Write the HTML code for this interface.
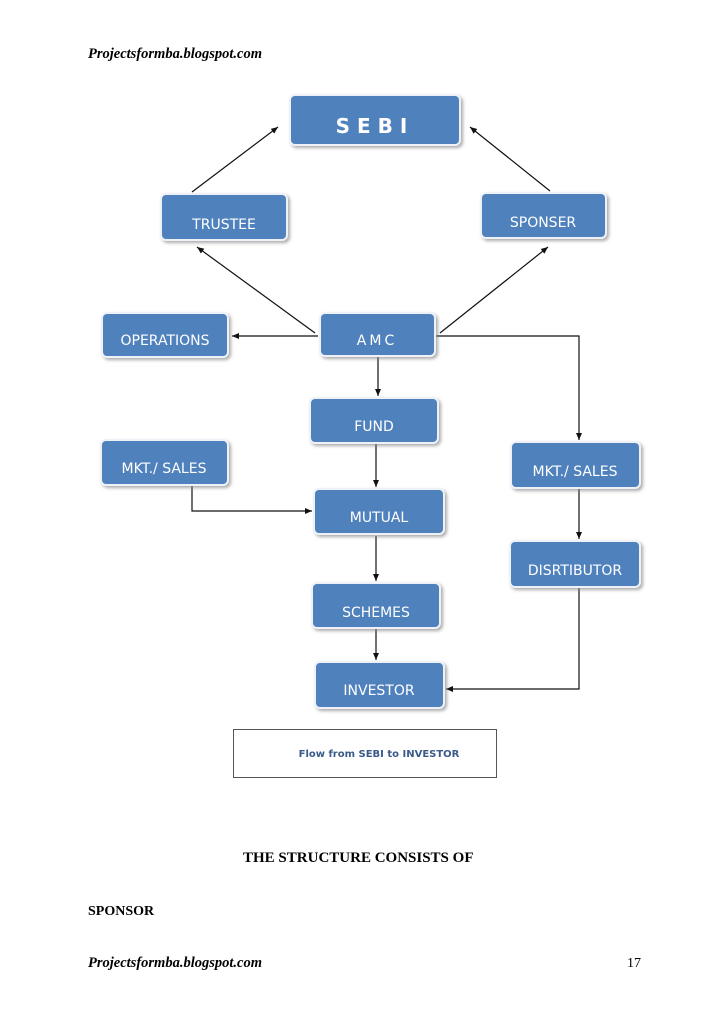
<!DOCTYPE html>
<html><head><meta charset="utf-8"><style>
html,body{margin:0;padding:0;background:#fff}
svg{display:block}
</style></head><body>
<svg width="728" height="1031" viewBox="0 0 728 1031" xmlns="http://www.w3.org/2000/svg">
<defs>
<marker id="a" markerWidth="8" markerHeight="8" refX="7" refY="4" orient="auto" markerUnits="userSpaceOnUse">
<path d="M0,1 L7,4 L0,7 z" fill="#111"/></marker>
<filter id="s" x="-10%" y="-10%" width="130%" height="140%"><feDropShadow dx="2" dy="2" stdDeviation="1.5" flood-color="#888" flood-opacity="0.7"/></filter>
</defs>
<g font-family="Liberation Serif, serif" font-weight="bold" font-style="italic" font-size="14.5" fill="#000">
<text x="88" y="58">Projectsformba.blogspot.com</text>
<text x="88" y="967">Projectsformba.blogspot.com</text>
</g>
<text x="627" y="967" font-family="Liberation Serif, serif" font-size="14">17</text>
<text x="243" y="862" font-family="Liberation Serif, serif" font-weight="bold" font-size="15">THE STRUCTURE CONSISTS OF</text>
<text x="88" y="915" font-family="Liberation Serif, serif" font-weight="bold" font-size="14">SPONSOR</text>

<g stroke="#111" stroke-width="1.2" fill="none" marker-end="url(#a)">
<line x1="192" y1="192" x2="278" y2="127"/>
<line x1="550" y1="191" x2="470" y2="127"/>
<line x1="315" y1="333" x2="197" y2="247"/>
<line x1="440" y1="333" x2="548" y2="247"/>
<line x1="318" y1="336" x2="232" y2="336"/>
<polyline points="436,336 579,336 579,440"/>
<line x1="378" y1="357" x2="378" y2="396"/>
<line x1="376" y1="444" x2="376" y2="487"/>
<polyline points="192,486 192,511 312,511"/>
<line x1="376" y1="536" x2="376" y2="581"/>
<line x1="376" y1="629" x2="376" y2="660"/>
<line x1="579" y1="489" x2="579" y2="539"/>
<polyline points="579,588 579,689 446,689"/>
</g>

<g fill="#4f81bd" stroke="#eef2f8" stroke-width="2" filter="url(#s)">
<rect x="290" y="95" width="170" height="50" rx="5"/>
<rect x="161" y="194" width="126" height="46" rx="5"/>
<rect x="481" y="193" width="125" height="45" rx="5"/>
<rect x="102" y="313" width="126" height="44" rx="5"/>
<rect x="320" y="313" width="115" height="43" rx="5"/>
<rect x="310" y="398" width="128" height="45" rx="5"/>
<rect x="101" y="440" width="127" height="45" rx="5"/>
<rect x="511" y="442" width="129" height="46" rx="5"/>
<rect x="314" y="489" width="130" height="45" rx="5"/>
<rect x="510" y="541" width="130" height="46" rx="5"/>
<rect x="312" y="583" width="128" height="45" rx="5"/>
<rect x="315" y="662" width="129" height="46" rx="5"/>
</g>

<g font-family="DejaVu Sans, Liberation Sans, sans-serif" font-size="14" fill="#fff" text-anchor="middle">
<text x="375" y="133" font-size="20" font-weight="bold" letter-spacing="7">SEBI</text>
<text x="224" y="229">TRUSTEE</text>
<text x="543" y="227">SPONSER</text>
<text x="165" y="345">OPERATIONS</text>
<text x="377" y="345" letter-spacing="3">AMC</text>
<text x="374" y="431">FUND</text>
<text x="164" y="473">MKT./ SALES</text>
<text x="575" y="476">MKT./ SALES</text>
<text x="379" y="522">MUTUAL</text>
<text x="575" y="575">DISRTIBUTOR</text>
<text x="376" y="617">SCHEMES</text>
<text x="379" y="695">INVESTOR</text>
</g>

<rect x="233.5" y="729.5" width="263" height="48" fill="#fff" stroke="#555" stroke-width="1"/>
<text x="379" y="757" text-anchor="middle" font-family="DejaVu Sans, Liberation Sans, sans-serif" font-size="10" font-weight="bold" fill="#3a5a8a">Flow from SEBI to INVESTOR</text>
</svg>
</body></html>
